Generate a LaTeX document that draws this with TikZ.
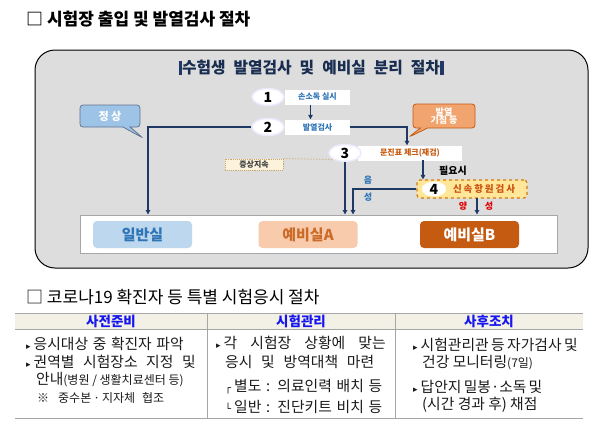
\documentclass[tikz,border=0pt]{standalone}
\usepackage{fontspec}
\setmainfont{Noto Sans CJK KR}
\newfontfamily\dejavu{DejaVu Sans}
\usetikzlibrary{shapes.geometric,shapes.callouts,arrows.meta,calc}
\definecolor{navy}{HTML}{1F3864}
\definecolor{framefill}{HTML}{DDDDDD}
\definecolor{stepblue}{HTML}{2E75B6}
\definecolor{darkorange}{HTML}{C55A11}
\definecolor{lightorange}{HTML}{F8CBAD}
\definecolor{lightblue}{HTML}{BDD7EE}
\definecolor{calloutblue}{HTML}{9DC3E6}
\definecolor{calloutorange}{HTML}{F2A46E}
\definecolor{yellowfill}{HTML}{FFE699}
\definecolor{beige}{HTML}{FDF2DC}
\definecolor{tanline}{HTML}{C9A86A}
\definecolor{headfill}{HTML}{F3F0E6}
\definecolor{gridgray}{HTML}{A6A6A6}
\definecolor{bodytext}{HTML}{1A1A1A}
\definecolor{headblue}{HTML}{1515F0}
\definecolor{posred}{HTML}{E00000}
\newcommand{\fs}[1]{\fontsize{#1}{#1}\selectfont}
\newcommand{\tri}{{\dejavu\fontsize{9}{9}\selectfont ▸}}
\begin{document}
\begin{tikzpicture}[x=1pt,y=-1pt,
  arr/.style={draw=navy, line width=1.3pt, -{Triangle[length=4.5pt,width=4.5pt]}},
  stepell/.style={ellipse, fill=white, draw=blue!8, line width=1.5pt, minimum width=32pt, minimum height=17pt, inner sep=0pt, font=\fs{14}\bfseries},
  steplab/.style={fill=white, minimum height=15pt, inner sep=0pt, font=\fs{8}\bfseries},
  roombox/.style={rounded corners=4pt, minimum width=99pt, minimum height=27pt, inner sep=0pt, font=\fs{15}\bfseries},
  bodyt/.style={anchor=west, inner sep=0pt, text=bodytext, font=\fs{14.8}},
  headt/.style={inner sep=0pt, text=headblue, font=\fs{13.5}\bfseries}]
\useasboundingbox (0,0) rectangle (600,429);

% ---------- section 1 ----------
\node[anchor=west, inner sep=0pt, font=\fs{17}\bfseries] (t1) at (26,19) {□ 시험장 출입 및 발열검사 절차};

\node[draw=black, line width=1pt, fill=framefill, rounded corners=20pt, minimum width=553pt, minimum height=218pt] (frame) at (311.5,159) {};

\node[inner sep=0pt, font=\fs{15.8}\bfseries, text=navy!80!black] (sub) at (311,68)
  {\textcolor{navy}{\rule[-1.5pt]{3.5pt}{14pt}}\makebox[258pt][s]{수험생 발열검사 및 예비실 분리 절차}\textcolor{navy}{\rule[-1.5pt]{3.5pt}{14pt}}};

% steps
\node[steplab, minimum width=65pt, text=stepblue] (l1) at (317.5,97) {손소독 실시};
\node[stepell] (e1) at (268,97) {1};
\node[steplab, minimum width=65pt, text=stepblue] (l2) at (317.5,127) {발열검사};
\node[stepell] (e2) at (268,127) {2};
\node[steplab, minimum width=104pt, text=darkorange] (l3) at (410,153) {문진표 체크(재검)};
\node[stepell] (e3) at (345,153) {3};

% step 4
\node[draw=darkorange!80!yellow, dashed, line width=1.2pt, fill=yellowfill, rounded corners=3pt, minimum width=110pt, minimum height=18pt] (s4) at (472,189) {};
\node[ellipse, fill=white, draw=white, minimum width=24pt, minimum height=14pt, inner sep=0pt, font=\fs{14}\bfseries] (e4) at (434,189) {4};
\node[inner sep=0pt, font=\fs{9.5}\bfseries, text=darkorange!90!red] (t4) at (484,189) {\makebox[62pt][s]{신 속 항 원 검 사}};

% callouts
\node[rectangle callout, rounded corners=3pt, draw=navy!70, line width=0.8pt, fill=calloutblue, minimum width=60pt, minimum height=22pt, inner sep=0pt,
      callout absolute pointer={(143,138)}, font=\fs{11}\bfseries, text=white] (normal) at (110,116) {정 상};
\node[rectangle callout, rounded corners=3pt, draw=darkorange, line width=0.8pt, fill=calloutorange, minimum width=62pt, minimum height=24pt, inner sep=0pt,
      callout absolute pointer={(409,137)}, font=\fs{9}\bfseries, text=white, align=center] (fever) at (444,116) {발열\\[-1.5pt]기침 등};

% symptom box
\node[draw=tanline, densely dotted, line width=0.9pt, fill=beige, minimum width=58pt, minimum height=11pt, inner sep=0pt, font=\fs{8}\bfseries, text=black!75] (sym) at (254,164.5) {증상지속};
\draw[tanline, dotted, line width=1pt] (sym.north east) -- (e3.south west);

% room bar
\node[draw=gridgray, line width=1pt, fill=white, minimum width=477pt, minimum height=38pt] (bar) at (318.5,234) {};
\node[roombox, fill=lightblue, text=stepblue] (r1) at (142.5,234.5) {일반실};
\node[roombox, fill=lightorange, text=darkorange!90!white] (r2) at (308,234.5) {예비실A};
\node[roombox, fill=darkorange, text=white] (r3) at (469.5,234.5) {예비실B};

% connectors
\draw[arr] (l1.south) ++(-7pt,0pt) coordinate (a1) -- (a1 |- l2.north);
\coordinate (c1) at (148,127);
\draw[arr] (e2.west) -- (c1) -- (c1 |- bar.north);
\coordinate (c2) at (407,127);
\draw[arr] (l2.east) -- (c2) -- (c2 |- l3.north);
\draw[arr] (e3.south) -- (e3.south |- bar.north);
\coordinate (c3) at (423,160);
\draw[arr] (c3) -- (c3 |- s4.north);
\coordinate (c4) at (353,189);
\draw[arr] (s4.west) -- (c4) -- (c4 |- bar.north);
\coordinate (c5) at (477,198);
\draw[arr] (c5) -- (c5 |- bar.north);

\node[inner sep=0pt, font=\fs{10}\bfseries] (need) at (453,171) {필요시};
\node[inner sep=0pt, font=\fs{9}\bfseries, text=stepblue] (neg1) at (368,180) {음};
\node[inner sep=0pt, font=\fs{9}\bfseries, text=stepblue] (neg2) at (368,197) {성};
\node[inner sep=0pt, font=\fs{9}\bfseries, text=posred] (pos1) at (463,206) {양};
\node[inner sep=0pt, font=\fs{9}\bfseries, text=posred] (pos2) at (489,206) {성};

% ---------- section 2 ----------
\node[anchor=west, inner sep=0pt, font=\fs{17}] (t2) at (26,297) {□ 코로나19 확진자 등 특별 시험응시 절차};

% table
\fill[headfill] (15,313) rectangle (583,329);
\draw[gridgray, line width=0.8pt] (15,313) -- (583,313);
\draw[gridgray, line width=0.6pt] (15,329) -- (583,329);
\draw[gridgray, line width=1pt] (15,418) -- (583,418);
\draw[gridgray, line width=0.6pt] (207,313) -- (207,418);
\draw[gridgray, line width=0.6pt] (395,313) -- (395,418);

\node[headt] (h1) at (111,321) {사전준비};
\node[headt] (h2) at (301,321) {시험관리};
\node[headt] (h3) at (489,321) {사후조치};

% column 1
\node[bodyt] (a1t) at (26,344) {\tri\hspace{3pt}\makebox[150pt][s]{응시대상 중 확진자 파악}};
\node[bodyt] (a2t) at (26,362) {\tri\hspace{3pt}\makebox[162pt][s]{권역별 시험장소 지정 및}};
\node[bodyt] (a3t) at (36,380) {안내{\fs{12}(병원 / 생활치료센터 등)}};
\node[bodyt, font=\fs{12}] (a4t) at (37,398) {※\hspace{9pt}중수본\,·\,지자체\hspace{7pt}협조};

% column 2
\node[bodyt] (b1t) at (216,343) {\tri\hspace{3pt}\makebox[162pt][s]{각 시험장 상황에 맞는}};
\node[bodyt] (b2t) at (225,362) {\makebox[149pt][s]{응시 및 방역대책 마련}};
\node[bodyt] (b3t) at (225,387) {{\dejavu\fs{10}┌}\hspace{3pt}\makebox[148pt][s]{별도 : 의료인력 배치 등}};
\node[bodyt] (b4t) at (225,407) {{\dejavu\fs{10}└}\hspace{3pt}\makebox[148pt][s]{일반 : 진단키트 비치 등}};

% column 3
\node[bodyt] (c1t) at (413,345) {\tri\hspace{3pt}\makebox[157pt][s]{시험관리관 등 자가검사 및}};
\node[bodyt] (c2t) at (422,363) {건강 모니터링{\fs{12}(7일)}};
\node[bodyt] (c3t) at (413,387) {\tri\hspace{3pt}\makebox[117pt][s]{답안지 밀봉·소독 및}};
\node[bodyt] (c4t) at (422,405) {(시간 경과 후) 채점};
\end{tikzpicture}
\end{document}
